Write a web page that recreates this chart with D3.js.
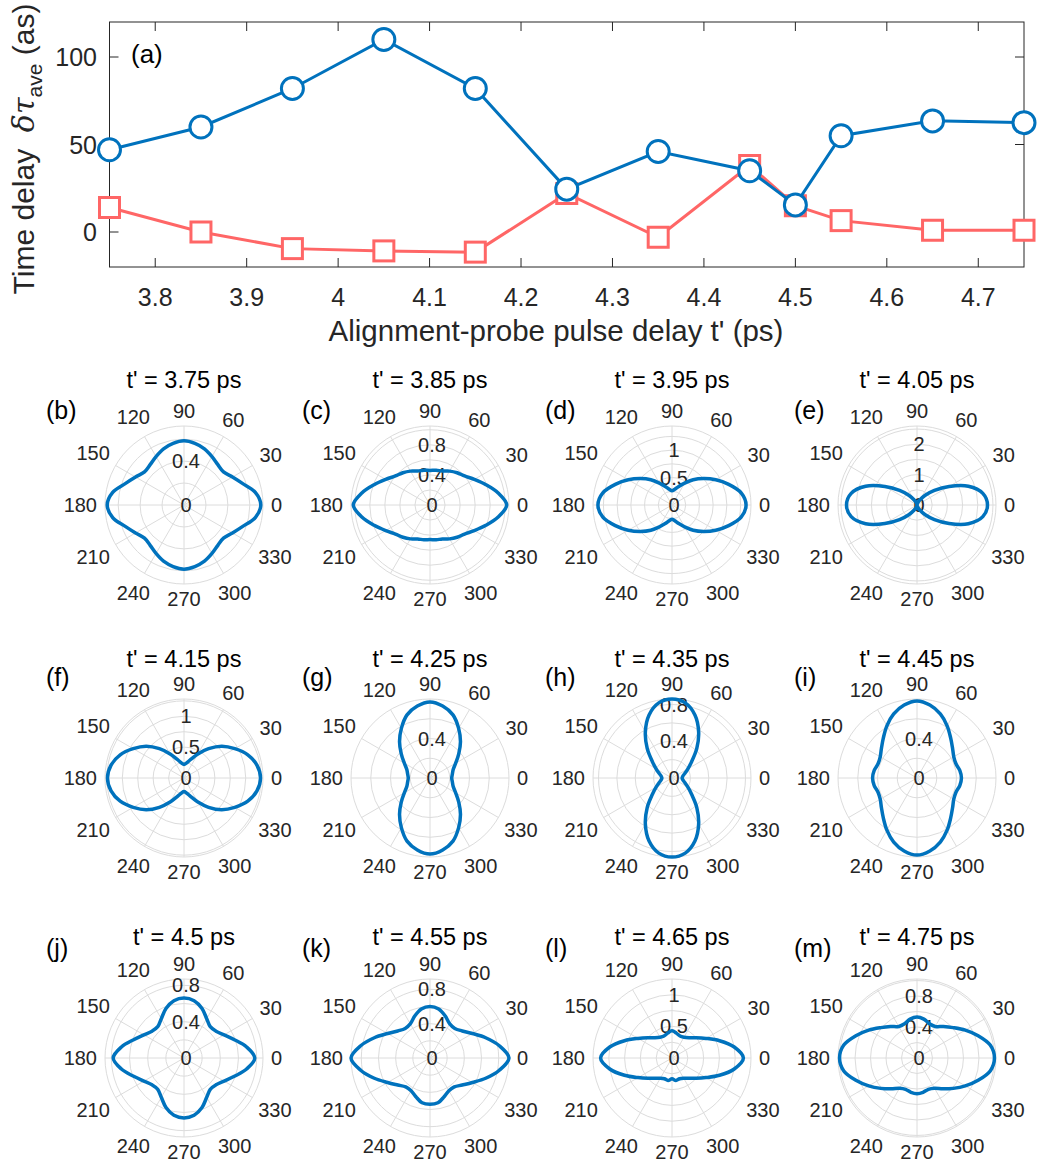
<!DOCTYPE html>
<html>
<head>
<meta charset="utf-8">
<script src="https://cdn.jsdelivr.net/npm/d3@7"></script>
<style>
  body { margin: 0; background: #fff; }
  svg text { font-family: "Liberation Sans", Arial, Helvetica, sans-serif; }
</style>
</head>
<body>
<svg id="fig" width="1039" height="1167"></svg>
<script>
// ---- panel (a) data ----
var delays = [3.75, 3.85, 3.95, 4.05, 4.15, 4.25, 4.35, 4.45, 4.5, 4.55, 4.65, 4.75];
var blueDelay = [47, 60, 82, 110, 82, 24.5, 46, 35, 15.5, 55, 63.5, 62.5];
var redDelay = [14, 0, -9.5, -10.8, -11.5, 22, -3, 38, 15, 6.5, 1, 1];
var xTicks = [3.8, 3.9, 4.0, 4.1, 4.2, 4.3, 4.4, 4.5, 4.6, 4.7];
var yTicks = [0, 50, 100];

// ---- polar panels (b)-(m) ----
var panelTags = ["(b)", "(c)", "(d)", "(e)", "(f)", "(g)", "(h)", "(i)", "(j)", "(k)", "(l)", "(m)"];
var panelTimes = ["3.75", "3.85", "3.95", "4.05", "4.15", "4.25", "4.35", "4.45", "4.5", "4.55", "4.65", "4.75"];
var sampleAngles = [0, 10, 20, 30, 40, 50, 60, 70, 80, 90];   // degrees, first quadrant
var rMax = [0.72, 1.05, 1.44, 2.6, 1.28, 0.8, 0.86, 0.8, 0.87, 0.92, 1.25, 1.02];
var rStep = [0.2, 0.2, 0.25, 0.5, 0.25, 0.2, 0.2, 0.2, 0.2, 0.2, 0.25, 0.2];
var rLabels = [[0, 0.4], [0, 0.4, 0.8], [0, 0.5, 1], [0, 1, 2], [0, 0.5, 1], [0, 0.4],
               [0, 0.4, 0.8], [0, 0.4], [0, 0.4, 0.8], [0, 0.4, 0.8], [0, 0.5, 1], [0, 0.4, 0.8]];

// radius read at sampleAngles (upper half; lower half given where it differs)
var rB = [0.70, 0.66, 0.57, 0.51, 0.47, 0.48, 0.51, 0.545, 0.57, 0.585];
var rC = [1.02, 0.92, 0.79, 0.68, 0.60, 0.56, 0.52, 0.48, 0.47, 0.46];
var rD = [1.35, 1.28, 1.10, 0.92, 0.75, 0.60, 0.46, 0.36, 0.29, 0.26];
var rE = [2.32, 2.2, 1.8, 1.22, 0.75, 0.42, 0.2, 0.08, 0.02, 0.0];
var rF = [1.24, 1.2, 1.1, 0.95, 0.8, 0.62, 0.45, 0.32, 0.25, 0.22];
var rG = [0.22, 0.23, 0.25, 0.3, 0.38, 0.48, 0.58, 0.68, 0.74, 0.77];
var rH = [0.11, 0.12, 0.15, 0.2, 0.28, 0.42, 0.58, 0.73, 0.83, 0.86];
var rI = [0.45, 0.44, 0.42, 0.43, 0.47, 0.53, 0.61, 0.69, 0.75, 0.78];
var rJ = [0.78, 0.70, 0.59, 0.51, 0.46, 0.45, 0.50, 0.58, 0.64, 0.66];
var rK = [0.92, 0.82, 0.69, 0.57, 0.49, 0.45, 0.46, 0.52, 0.58, 0.60];
var rKlow = [0.92, 0.82, 0.69, 0.57, 0.49, 0.44, 0.44, 0.48, 0.53, 0.54];
var rL = [1.13, 1.0, 0.8, 0.62, 0.5, 0.42, 0.38, 0.37, 0.4, 0.43];
var rLlow = [1.13, 1.0, 0.8, 0.62, 0.5, 0.42, 0.37, 0.35, 0.36, 0.33];
var rM = [1.0, 0.96, 0.84, 0.72, 0.61, 0.53, 0.47, 0.47, 0.51, 0.53];
var rMlow = [1.0, 0.96, 0.84, 0.72, 0.61, 0.52, 0.45, 0.43, 0.45, 0.46];

var upperR = [rB, rC, rD, rE, rF, rG, rH, rI, rJ, rK, rL, rM];
var lowerR = [rB, rC, rD, rE, rF, rG, rH, rI, rJ, rKlow, rLlow, rMlow];

var blue = "#0072BD", red = "#FF6666", axisCol = "#262626", gridCol = "#dcdcdc";
var svg = d3.select("#fig");

// ================= panel (a) =================
var x = d3.scaleLinear().domain([3.75, 4.75]).range([109.5, 1024]);
var y = d3.scaleLinear().domain([-20, 120]).range([267, 22]);

var gA = svg.append("g");

// ticks inside, on all four sides
gA.selectAll(".xt").data(xTicks).enter().append("path")
    .attr("d", d => "M" + x(d) + ",267v-9M" + x(d) + ",22v9")
    .attr("stroke", axisCol).attr("stroke-width", 1);
gA.selectAll(".yt").data(yTicks).enter().append("path")
    .attr("d", d => "M109.5," + y(d) + "h9M1024," + y(d) + "h-9")
    .attr("stroke", axisCol).attr("stroke-width", 1);
gA.append("rect").attr("x", 109.5).attr("y", 22).attr("width", 1024 - 109.5).attr("height", 245)
    .attr("fill", "none").attr("stroke", axisCol).attr("stroke-width", 1);

gA.selectAll(".xl").data(xTicks).enter().append("text")
    .attr("x", d => x(d)).attr("y", 306).attr("text-anchor", "middle")
    .attr("font-size", 25).attr("fill", axisCol)
    .text(d => d3.format("")(+d.toFixed(1)));
gA.selectAll(".yl").data(yTicks).enter().append("text")
    .attr("x", 97).attr("y", d => y(d) + 9).attr("text-anchor", "end")
    .attr("font-size", 25).attr("fill", axisCol)
    .text(d => d);

gA.append("text").attr("x", 556).attr("y", 341).attr("text-anchor", "middle")
    .attr("font-size", 29.5).attr("fill", axisCol)
    .text("Alignment-probe pulse delay t' (ps)");

var yl = gA.append("text").attr("transform", "translate(34,149) rotate(-90)")
    .attr("text-anchor", "middle").attr("font-size", 30).attr("fill", axisCol);
yl.append("tspan").text("Time delay\u00a0\u00a0");
yl.append("tspan").attr("font-style", "italic").attr("font-family", "DejaVu Serif, serif").text("δτ");
yl.append("tspan").attr("font-size", 21).attr("dy", 8).text("ave");
yl.append("tspan").attr("dy", -8).text(" (as)");

gA.append("text").attr("x", 131).attr("y", 63).attr("font-size", 26).attr("fill", "#000").text("(a)");

var lineA = d3.line().x((d, i) => x(delays[i])).y(d => y(d));

gA.append("path").datum(redDelay).attr("d", lineA)
    .attr("fill", "none").attr("stroke", red).attr("stroke-width", 3);
gA.selectAll(".sq").data(redDelay).enter().append("rect")
    .attr("x", (d, i) => x(delays[i]) - 10).attr("y", d => y(d) - 10)
    .attr("width", 20).attr("height", 20)
    .attr("fill", "#fff").attr("stroke", red).attr("stroke-width", 3);

gA.append("path").datum(blueDelay).attr("d", lineA)
    .attr("fill", "none").attr("stroke", blue).attr("stroke-width", 3);
gA.selectAll(".ci").data(blueDelay).enter().append("circle")
    .attr("cx", (d, i) => x(delays[i])).attr("cy", d => y(d)).attr("r", 11)
    .attr("fill", "#fff").attr("stroke", blue).attr("stroke-width", 3);

// ================= polar panels =================
var colX = [184, 430, 672, 917];
var rowY = [505, 778, 1058];
var titleY = [388, 667, 945];
var tagY = [419, 686, 957];
var tagX = [46, 302, 545, 794];
var R = 79, labelGap = 87, digitH = 14;

function fullCurve(up, low) {
    var pts = [];
    sampleAngles.forEach((a, i) => pts.push([a, up[i]]));
    for (var i = sampleAngles.length - 2; i >= 0; i--) pts.push([180 - sampleAngles[i], up[i]]);
    for (var i = 1; i < sampleAngles.length; i++) pts.push([180 + sampleAngles[i], low[i]]);
    for (var i = sampleAngles.length - 2; i > 0; i--) pts.push([360 - sampleAngles[i], low[i]]);
    return pts;
}

panelTags.forEach(function(tag, k) {
    var cx = colX[k % 4], cy = rowY[Math.floor(k / 4)];
    var row = Math.floor(k / 4);
    var r = d3.scaleLinear().domain([0, rMax[k]]).range([0, R]);
    var g = svg.append("g").attr("transform", "translate(" + cx + "," + cy + ")");

    var rings = d3.range(rStep[k], rMax[k] - 1e-6, rStep[k]).concat([rMax[k]]);
    g.selectAll(".ring").data(rings).enter().append("circle")
        .attr("r", d => r(d)).attr("fill", "none").attr("stroke", gridCol).attr("stroke-width", 1);
    var spokes = d3.range(0, 360, 30);
    g.selectAll(".sp").data(spokes).enter().append("line")
        .attr("x1", 0).attr("y1", 0)
        .attr("x2", d => R * Math.cos(d * Math.PI / 180))
        .attr("y2", d => -R * Math.sin(d * Math.PI / 180))
        .attr("stroke", gridCol).attr("stroke-width", 1);

    // theta labels: the text box edge nearest the centre sits at labelGap
    g.selectAll(".th").data(spokes).enter().append("text")
        .attr("text-anchor", "middle").attr("font-size", 20).attr("fill", axisCol)
        .text(d => d)
        .each(function(d) {
            var a = d * Math.PI / 180;
            var w = this.getComputedTextLength();
            var dist = labelGap + (w / 2) * Math.abs(Math.cos(a)) + (digitH / 2) * Math.abs(Math.sin(a));
            d3.select(this).attr("x", dist * Math.cos(a)).attr("y", -dist * Math.sin(a) + 7);
        });

    g.selectAll(".rl").data(rLabels[k]).enter().append("text")
        .attr("x", 2).attr("y", d => -r(d) + 7)
        .attr("text-anchor", "middle").attr("font-size", 20).attr("fill", axisCol)
        .text(d => d);

    var radial = d3.lineRadial()
        .angle(d => Math.PI / 2 - d[0] * Math.PI / 180)
        .radius(d => r(d[1]))
        .curve(d3.curveCatmullRomClosed.alpha(0.5));
    g.append("path").datum(fullCurve(upperR[k], lowerR[k])).attr("d", radial)
        .attr("fill", "none").attr("stroke", blue).attr("stroke-width", 3.5);

    svg.append("text").attr("x", cx).attr("y", titleY[row]).attr("text-anchor", "middle")
        .attr("font-size", 23.5).attr("fill", "#000").text("t' = " + panelTimes[k] + " ps");
    svg.append("text").attr("x", tagX[k % 4]).attr("y", tagY[row])
        .attr("font-size", 25).attr("fill", "#000").text(tag);
});
</script>
</body>
</html>
